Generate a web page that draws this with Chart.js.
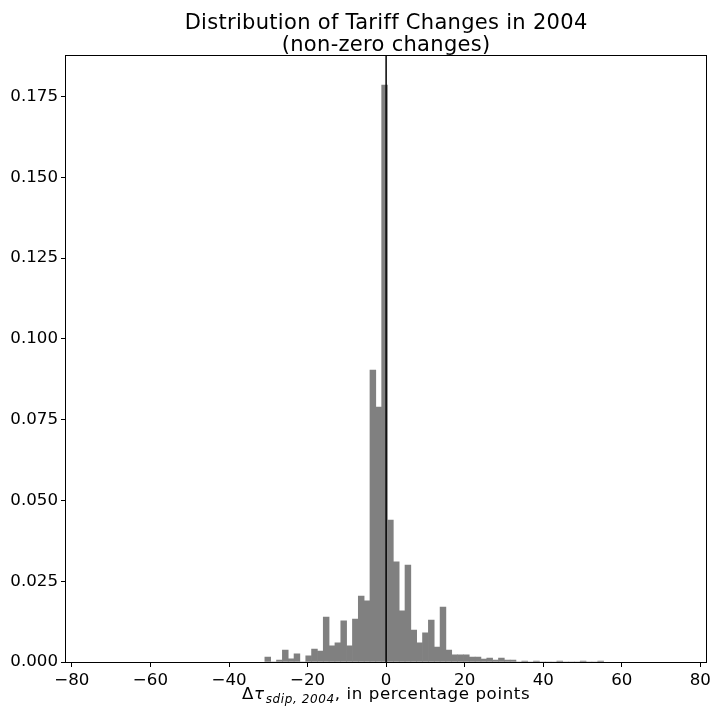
<!DOCTYPE html>
<html>
<head>
<meta charset="utf-8">
<script src="https://cdn.jsdelivr.net/npm/chart.js@4"></script>
<style>
  html, body { margin: 0; padding: 0; background: #ffffff; }
  #c { display: block; }
</style>
</head>
<body>
<canvas id="c" width="715" height="711"></canvas>
<script>
// ---- data ----
const binCenters = [
  -30.13, -28.65, -27.16, -25.67, -24.19, -22.70, -21.21, -19.72, -18.24, -16.75,
  -15.26, -13.78, -12.29, -10.80, -9.32, -7.83, -6.34, -4.85, -3.37, -1.88,
  -0.39, 1.09, 2.58, 4.07, 5.55, 7.04, 8.53, 10.01, 11.50, 12.99,
  14.48, 15.96, 17.45, 18.94, 20.42, 21.91, 23.40, 24.89, 26.37, 27.86,
  29.35, 30.83, 32.32, 33.81, 35.29, 36.78, 38.27, 39.76, 41.24, 42.73,
  44.22, 45.70, 47.19, 48.68, 50.16, 51.65, 53.14, 54.63
];
const density = [
  0.0015, 0.0000, 0.0006, 0.0037, 0.0010, 0.0025, 0.0000, 0.0019, 0.0040, 0.0034,
  0.0139, 0.0050, 0.0059, 0.0127, 0.0050, 0.0133, 0.0204, 0.0189, 0.0903, 0.0789,
  0.1785, 0.0439, 0.0310, 0.0158, 0.0300, 0.0099, 0.0059, 0.0090, 0.0130, 0.0046,
  0.0170, 0.0037, 0.0022, 0.0022, 0.0022, 0.0015, 0.0015, 0.0009, 0.0012, 0.0006,
  0.0012, 0.0006, 0.0006, 0.0000, 0.0003, 0.0000, 0.0003, 0.0000, 0.0000, 0.0000,
  0.0003, 0.0000, 0.0000, 0.0000, 0.0003, 0.0000, 0.0000, 0.0003
];
const xTicks = [-80, -60, -40, -20, 0, 20, 40, 60, 80];
const yTicks = [0, 0.025, 0.05, 0.075, 0.1, 0.125, 0.15, 0.175];
const titleLines = ['Distribution of Tariff Changes in 2004', '(non-zero changes)'];
const xLabelParts = { delta: '\u0394', tau: '\u03C4', sub: 'sdip, 2004', rest: ', in percentage points' };
const refLineX = 0;
const xRange = [-81.5, 81.5];
const yRange = [0, 0.1875];

const FONT = '"DejaVu Sans", "Liberation Sans", sans-serif';

const decorations = {
  id: 'decorations',
  afterDatasetsDraw(chart) {
    const { ctx, chartArea: a, scales } = chart;
    const x0 = scales.x.getPixelForValue(refLineX);
    ctx.save();
    ctx.strokeStyle = '#000000';
    ctx.lineWidth = 1.5;
    ctx.beginPath();
    ctx.moveTo(x0, a.top);
    ctx.lineTo(x0, a.bottom);
    ctx.stroke();
    // frame
    ctx.lineWidth = 1;
    ctx.strokeStyle = '#000000';
    ctx.strokeRect(Math.round(a.left) - 0.5, Math.round(a.top) - 0.5,
                   Math.round(a.right) - Math.round(a.left) + 1, Math.round(a.bottom) - Math.round(a.top) + 1);
    ctx.restore();
  },
  afterDraw(chart) {
    const { ctx, chartArea: a } = chart;
    const cx = (a.left + a.right) / 2;
    ctx.save();
    ctx.fillStyle = '#000000';
    ctx.textBaseline = 'alphabetic';
    ctx.textAlign = 'left';

    // title (two centered lines)
    ctx.font = '21px ' + FONT;
    ctx.letterSpacing = '0.3px';
    titleLines.forEach((t, i) => {
      const w = ctx.measureText(t).width;
      ctx.fillText(t, cx - w / 2, i === 0 ? 28.5 : 51);
    });

    // x label with math subscript
    const mainFont = '16.67px ' + FONT;
    const italFont = 'italic 16.67px ' + FONT;
    const subFont = 'italic 12px ' + FONT;
    ctx.letterSpacing = '0.6px';
    ctx.font = mainFont; const wD = ctx.measureText(xLabelParts.delta).width;
    ctx.font = italFont; const wT = ctx.measureText(xLabelParts.tau).width;
    ctx.font = subFont; const wS = ctx.measureText(xLabelParts.sub).width;
    ctx.font = mainFont; const wR = ctx.measureText(xLabelParts.rest).width;
    const total = wD + wT + wS + wR + 1;
    let x = cx - total / 2;
    const base = 699;
    ctx.font = mainFont; ctx.fillText(xLabelParts.delta, x, base); x += wD;
    ctx.font = italFont; ctx.fillText(xLabelParts.tau, x, base); x += wT + 1;
    ctx.font = subFont; ctx.fillText(xLabelParts.sub, x, base + 3.5); x += wS;
    ctx.font = mainFont; ctx.fillText(xLabelParts.rest, x, base);
    ctx.restore();
  }
};

new Chart(document.getElementById('c'), {
  type: 'bar',
  data: {
    datasets: [{
      data: binCenters.map((c, i) => ({ x: c, y: density[i] })),
      backgroundColor: '#808080',
      borderWidth: 0,
      barPercentage: 1.0,
      categoryPercentage: 1.0
    }]
  },
  options: {
    responsive: false,
    devicePixelRatio: 1,
    animation: false,
    layout: { padding: { left: 0, right: 7, top: 56, bottom: 0 } },
    plugins: {
      legend: { display: false },
      title: { display: false },
      tooltip: { enabled: false }
    },
    scales: {
      x: {
        type: 'linear',
        min: xRange[0],
        max: xRange[1],
        offset: false,
        border: { display: false },
        grid: { display: true, offset: false, drawOnChartArea: false, drawTicks: true, tickLength: 5, color: '#000000', lineWidth: 1 },
        afterBuildTicks: (s) => { s.ticks = xTicks.map(v => ({ value: v })); },
        afterFit: (s) => { s.height = 49; },
        ticks: {
          autoSkip: false,
          maxRotation: 0,
          padding: 4,
          color: '#000000',
          font: { family: FONT, size: 16.67 },
          callback: (v) => String(v).replace('-', '\u2212')
        }
      },
      y: {
        type: 'linear',
        min: yRange[0],
        max: yRange[1],
        border: { display: false },
        grid: { display: true, drawOnChartArea: false, drawTicks: true, tickLength: 5, color: '#000000', lineWidth: 1 },
        afterBuildTicks: (s) => { s.ticks = yTicks.map(v => ({ value: v })); },
        afterFit: (s) => { s.width = 66; },
        ticks: {
          autoSkip: false,
          padding: 3,
          color: '#000000',
          font: { family: FONT, size: 16.67 },
          callback: (v) => Number(v).toFixed(3)
        }
      }
    }
  },
  plugins: [decorations]
});
</script>
</body>
</html>
